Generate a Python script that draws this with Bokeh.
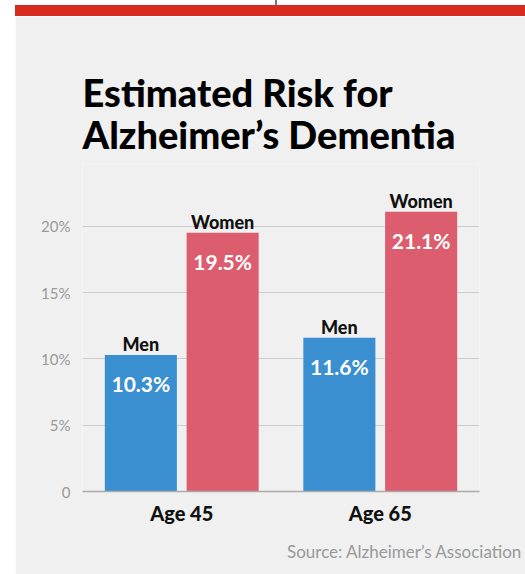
from bokeh.plotting import figure
from bokeh.models import FactorRange, Range1d, FixedTicker, Title, ColumnDataSource, Div
from bokeh.layouts import column
from bokeh.transform import dodge
from bokeh.core.properties import value
from bokeh.embed import file_html
from bokeh.resources import INLINE

# ---- data ----
ages = ["Age 45", "Age 65"]
series_names = ["Men", "Women"]
men = [10.3, 11.6]
women = [19.5, 21.1]
men_labels = ["10.3%", "11.6%"]
women_labels = ["19.5%", "21.1%"]
y_ticks = [0, 5, 10, 15, 20]
y_tick_labels = ["0", "5%", "10%", "15%", "20%"]
title_lines = ["Estimated Risk for", "Alzheimer\u2019s Dementia"]
source_note = "Source: Alzheimer\u2019s Association"

# ---- style ----
BG = "#f0f0f0"
RED = "#d62b1e"
BLUE = "#3a8fd0"
PINK = "#dc5d6d"
FONT = "Lato"
HEAVY = "Lato Black"
OFF = 0.206
BAR_W = 0.363

src = ColumnDataSource(dict(
    age=ages, men=men, women=women,
    men_lab=men_labels, women_lab=women_labels,
    men_name=[series_names[0]] * len(ages),
    women_name=[series_names[1]] * len(ages),
))

p = figure(x_range=FactorRange(*ages), y_range=Range1d(0, 24.73),
           width=510, height=558, output_backend="svg", toolbar_location=None,
           background_fill_color=BG, border_fill_color=BG, outline_line_color=None,
           min_border_left=67, min_border_right=46, min_border_bottom=83,
           min_border_top=147, margin=(0, 0, 0, 15),
           styles={"flex-shrink": "0"})

p.vbar(x=dodge("age", -OFF, range=p.x_range), top="men", width=BAR_W,
       source=src, fill_color=BLUE, line_color=None)
p.vbar(x=dodge("age", OFF, range=p.x_range), top="women", width=BAR_W,
       source=src, fill_color=PINK, line_color=None)

for key, off in (("men", -OFF), ("women", OFF)):
    p.text(x=dodge("age", off, range=p.x_range), y=key, text=key + "_name", source=src,
           text_font=value(HEAVY), text_font_style="normal", text_font_size="18px",
           text_color="#111111", text_align="center", text_baseline="alphabetic",
           y_offset=-10.5)
    p.text(x=dodge("age", off, range=p.x_range), y=key, text=key + "_lab", source=src,
           text_font=value(FONT), text_font_style="bold", text_font_size="21px",
           text_color="white", text_align="center", text_baseline="alphabetic",
           y_offset=28.5)

# axes
p.xgrid.visible = False
p.ygrid.grid_line_color = "#cccccc"
p.ygrid.grid_line_width = 1
p.yaxis.ticker = FixedTicker(ticks=y_ticks)
p.yaxis.major_label_overrides = dict(zip(y_ticks, y_tick_labels))
p.yaxis.axis_line_color = None
p.yaxis.major_tick_line_color = None
p.yaxis.minor_tick_line_color = None
p.yaxis.major_label_standoff = 6
p.yaxis.major_label_text_font = FONT
p.yaxis.major_label_text_font_size = "15px"
p.yaxis.major_label_text_color = "#999999"

p.xaxis.axis_line_color = "#aaaaaa"
p.xaxis.axis_line_width = 1.5
p.xaxis.major_tick_line_color = None
p.xaxis.minor_tick_line_color = None
p.xaxis.major_label_standoff = 3
p.xaxis.major_label_text_font = HEAVY
p.xaxis.major_label_text_font_style = "normal"
p.xaxis.major_label_text_font_size = "20px"
p.xaxis.major_label_text_color = "#111111"

# titles (second line first: later ones stack above)
p.add_layout(Title(text=title_lines[1], text_font=HEAVY, text_font_style="normal",
                   text_font_size="38px", text_color="#000000", align="left",
                   standoff=13), "above")
p.add_layout(Title(text=title_lines[0], text_font=HEAVY, text_font_style="normal",
                   text_font_size="38px", text_color="#000000", align="left",
                   standoff=-25), "above")

p.add_layout(Title(text=source_note, text_font=FONT, text_font_style="normal",
                   text_font_size="17px", text_color="#999999", align="right",
                   offset=-43, standoff=22), "below")

top_html = (
    '<div style="position:relative;width:525px;height:16px;background:#ffffff;">'
    '<div style="position:absolute;left:275px;top:0px;width:2px;height:5px;background:#777777;"></div>'
    f'<div style="position:absolute;left:15px;top:5px;width:510px;height:11px;background:{RED};"></div>'
    '</div>'
)
top = Div(text=top_html, width=525, height=16, margin=0, styles={"flex-shrink": "0"})

layout = column(top, p)

open("out.html", "w").write(file_html(layout, INLINE))
